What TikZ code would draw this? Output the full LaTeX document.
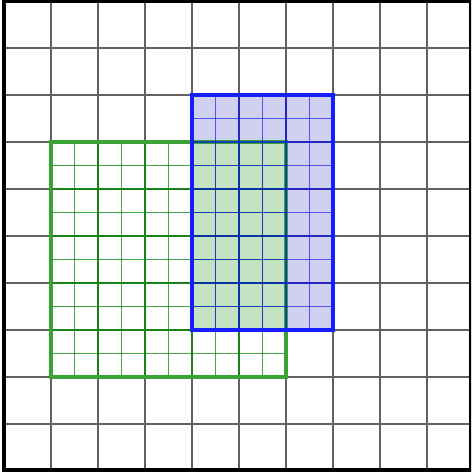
\documentclass[tikz,border=0pt]{standalone}
\begin{document}
\begin{tikzpicture}[x=1pt,y=-1pt,
  coarse/.style={draw=black!62,line width=1.5pt},
  gfine/.style={draw=green!55!black,line width=1.1pt,opacity=0.75},
  bfine/.style={draw=blue,line width=1.1pt,opacity=0.6},
  gborder/.style={draw={rgb,255:red,58;green,163;blue,53},line width=4pt},
  bborder/.style={draw={rgb,255:red,20;green,30;blue,255},line width=4pt}]
\definecolor{lav}{RGB}{208,208,240}
\definecolor{lgreen}{RGB}{196,227,195}
\useasboundingbox (0,0) rectangle (471,476);
\clip (0,0) rectangle (471,476);
% fills
\fill[lav] (192,95) rectangle (333,330);
\begin{scope}
  \clip (192,95) rectangle (333,330);
  \fill[lgreen] (51,142) rectangle (286,377);
\end{scope}
% coarse grid
\foreach \i in {1,...,9} {
  \draw[coarse] ({4+47*\i},1) -- ({4+47*\i},471);
  \draw[coarse] (4,{1+47*\i}) -- (471,{1+47*\i});
}
% green fine grid
\foreach \k in {1,...,9} {
  \draw[gfine] ({51+23.5*\k},142) -- ({51+23.5*\k},377);
  \draw[gfine] (51,{142+23.5*\k}) -- (286,{142+23.5*\k});
}
\draw[gborder] (51,142) rectangle (286,377);
% blue fine grid
\foreach \k in {1,...,5} {
  \draw[bfine] ({192+23.5*\k},95) -- ({192+23.5*\k},330);
}
\foreach \k in {1,...,9} {
  \draw[bfine] (192,{95+23.5*\k}) -- (333,{95+23.5*\k});
}
\draw[bborder] (192,95) rectangle (333,330);
% outer frame
\draw[black,line width=4.5pt] (4,1) rectangle (471,470);
\end{tikzpicture}
\end{document}
